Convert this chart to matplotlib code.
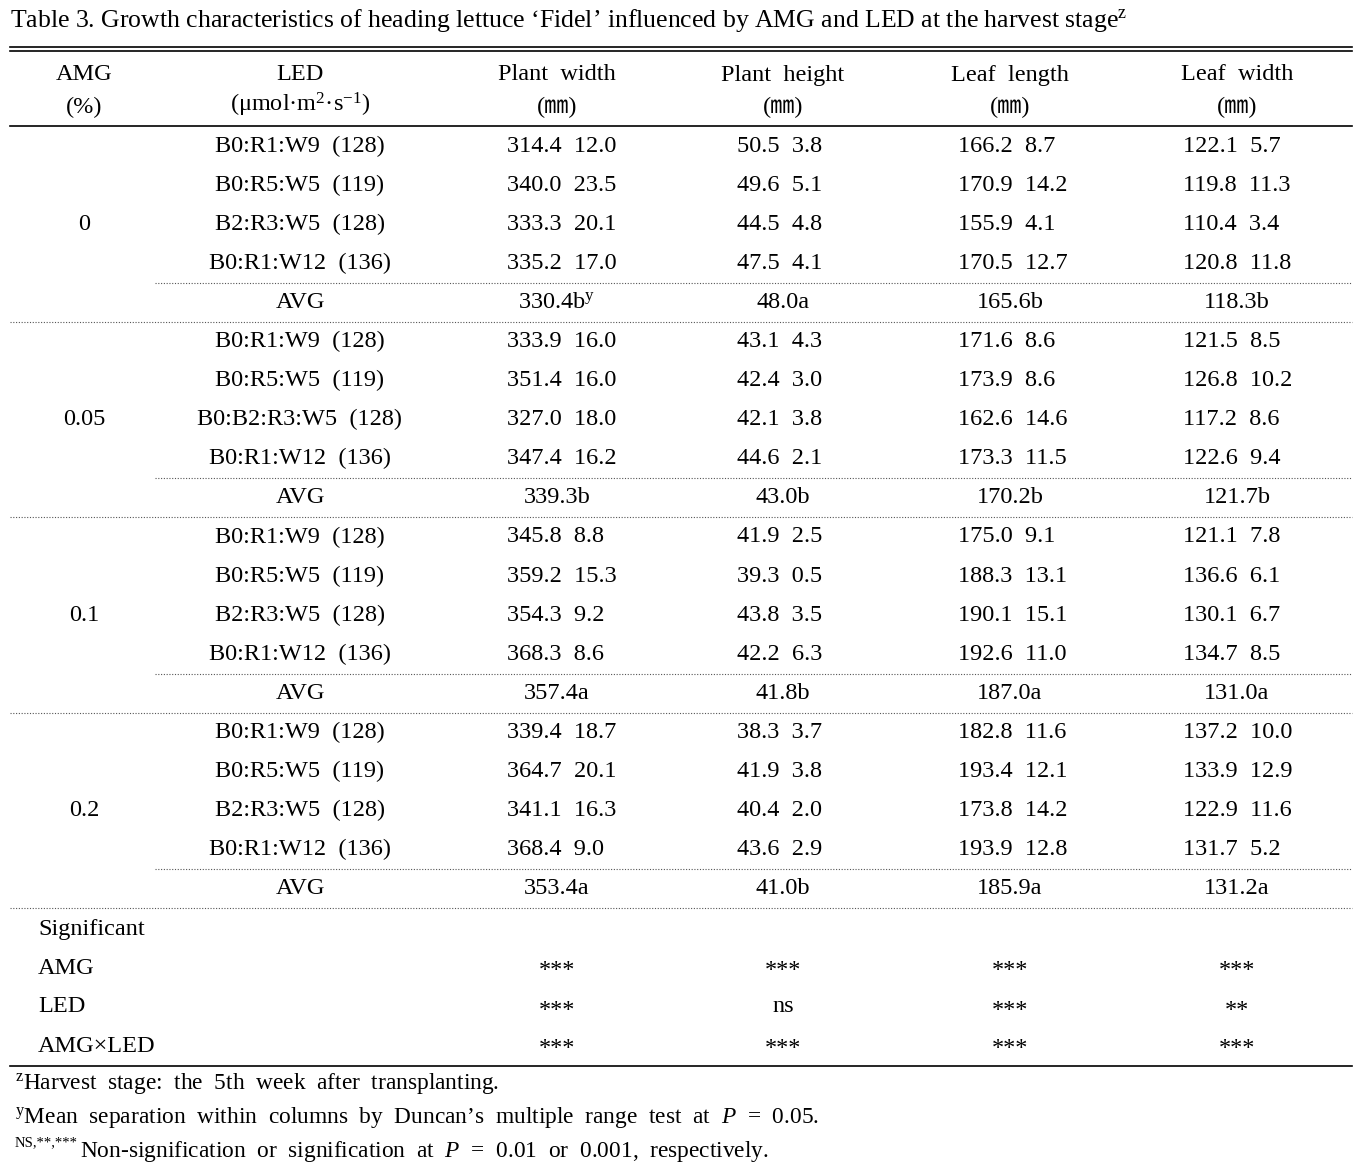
import matplotlib.pyplot as plt

plt.rcParams['font.family'] = ['Liberation Serif', 'Noto Sans CJK JP', 'DejaVu Sans']
plt.rcParams['mathtext.fontset'] = 'custom'
plt.rcParams['mathtext.rm'] = 'Liberation Serif'
plt.rcParams['mathtext.it'] = 'Liberation Serif:italic'

# table data
amg_levels = ["0", "0.05", "0.1", "0.2"]
led_labels = [
    ["B0:R1:W9  (128)", "B0:R5:W5  (119)", "B2:R3:W5  (128)", "B0:R1:W12  (136)"],
    ["B0:R1:W9  (128)", "B0:R5:W5  (119)", "B0:B2:R3:W5  (128)", "B0:R1:W12  (136)"],
    ["B0:R1:W9  (128)", "B0:R5:W5  (119)", "B2:R3:W5  (128)", "B0:R1:W12  (136)"],
    ["B0:R1:W9  (128)", "B0:R5:W5  (119)", "B2:R3:W5  (128)", "B0:R1:W12  (136)"],
]
plant_width_mean = [[314.4, 340.0, 333.3, 335.2], [333.9, 351.4, 327.0, 347.4],
                    [345.8, 359.2, 354.3, 368.3], [339.4, 364.7, 341.1, 368.4]]
plant_width_se = [[12.0, 23.5, 20.1, 17.0], [16.0, 16.0, 18.0, 16.2],
                  [8.8, 15.3, 9.2, 8.6], [18.7, 20.1, 16.3, 9.0]]
plant_height_mean = [[50.5, 49.6, 44.5, 47.5], [43.1, 42.4, 42.1, 44.6],
                     [41.9, 39.3, 43.8, 42.2], [38.3, 41.9, 40.4, 43.6]]
plant_height_se = [[3.8, 5.1, 4.8, 4.1], [4.3, 3.0, 3.8, 2.1],
                   [2.5, 0.5, 3.5, 6.3], [3.7, 3.8, 2.0, 2.9]]
leaf_length_mean = [[166.2, 170.9, 155.9, 170.5], [171.6, 173.9, 162.6, 173.3],
                    [175.0, 188.3, 190.1, 192.6], [182.8, 193.4, 173.8, 193.9]]
leaf_length_se = [[8.7, 14.2, 4.1, 12.7], [8.6, 8.6, 14.6, 11.5],
                  [9.1, 13.1, 15.1, 11.0], [11.6, 12.1, 14.2, 12.8]]
leaf_width_mean = [[122.1, 119.8, 110.4, 120.8], [121.5, 126.8, 117.2, 122.6],
                   [121.1, 136.6, 130.1, 134.7], [137.2, 133.9, 122.9, 131.7]]
leaf_width_se = [[5.7, 11.3, 3.4, 11.8], [8.5, 10.2, 8.6, 9.4],
                 [7.8, 6.1, 6.7, 8.5], [10.0, 12.9, 11.6, 5.2]]
avg_plant_width = ["330.4b$^{\\mathrm{y}}$", "339.3b", "357.4a", "353.4a"]
avg_plant_height = ["48.0a", "43.0b", "41.8b", "41.0b"]
avg_leaf_length = ["165.6b", "170.2b", "187.0a", "185.9a"]
avg_leaf_width = ["118.3b", "121.7b", "131.0a", "131.2a"]
sig_labels = ["AMG", "LED", "AMG×LED"]
sig_plant_width = ["***", "***", "***"]
sig_plant_height = ["***", "ns", "***"]
sig_leaf_length = ["***", "***", "***"]
sig_leaf_width = ["***", "**", "***"]
col_names = ["Plant  width", "Plant  height", "Leaf  length", "Leaf  width"]

W, H = 1370, 1171
fig = plt.figure(figsize=(W / 100, H / 100), dpi=100)
ax = fig.add_axes([0, 0, 1, 1])
ax.set_xlim(0, W)
ax.set_ylim(H, 0)
ax.axis('off')

fs = 17.5
x_left, x_right = 10, 1352
col_center = [557, 783, 1010, 1237]
col_left = [507, 737, 958, 1183]

def txt(x, y, s, ha='center', size=fs, **kw):
    ax.text(x, y, s, ha=ha, va='center', fontsize=size, **kw)

def hline(y, x0=x_left, style='solid', lw=1.0, color='black'):
    if style == 'dotted':
        ax.plot([x0, x_right], [y, y], color='#555555', lw=0.8, ls=(0, (1, 1.5)))
    else:
        ax.plot([x0, x_right], [y, y], color=color, lw=lw)

# title
txt(x_left, 21, "Table 3. Growth characteristics of heading lettuce \u2018Fidel\u2019 influenced by AMG and LED "
    "at the harvest stage$^{\\mathrm{z}}$", ha='left', size=18.5)

hline(47, lw=1.2)
hline(51, lw=1.2)

# header
txt(84, 75, "AMG")
txt(84, 107, "(%)")
txt(300, 75, "LED")
txt(300, 105, "(\u03bcmol\u00b7m$^{2}$\u00b7s$^{\\mathrm{-1}}$)")
for cx, name in zip(col_center, col_names):
    txt(cx, 75, name)
    txt(cx, 107, "(\u339c)")
hline(126, lw=1.2)

means = [plant_width_mean, plant_height_mean, leaf_length_mean, leaf_width_mean]
ses = [plant_width_se, plant_height_se, leaf_length_se, leaf_width_se]
avgs = [avg_plant_width, avg_plant_height, avg_leaf_length, avg_leaf_width]

row_h = 39.1
y0 = 146
for g, amg in enumerate(amg_levels):
    gy = y0 + g * 5 * row_h
    txt(84, gy + 2 * row_h, amg)
    for r in range(4):
        y = gy + r * row_h
        txt(300, y, led_labels[g][r])
        for c in range(4):
            txt(col_left[c], y, "%.1f  %.1f" % (means[c][g][r], ses[c][g][r]), ha='left')
    hline(gy + 3.5 * row_h, x0=155, style='dotted')
    ya = gy + 4 * row_h
    txt(300, ya, "AVG")
    for c in range(4):
        txt(col_center[c], ya, avgs[c][g])
    hline(gy + 4.5 * row_h, style='dotted')

# significance
txt(38, 930, "Significant", ha='left')
sig_cols = [sig_plant_width, sig_plant_height, sig_leaf_length, sig_leaf_width]
for i, lab in enumerate(sig_labels):
    y = 968 + i * 39
    txt(38, y, lab, ha='left')
    for c in range(4):
        s = sig_cols[c][i]
        txt(col_center[c], y + (3 if s.startswith('*') else 0), s)
hline(1066, lw=1.2)

# footnotes
ffs = 16.8
txt(15, 1084, "$^{\\mathrm{z}}$Harvest  stage:  the  5th  week  after  transplanting.", ha='left', size=ffs)
txt(15, 1118, "$^{\\mathrm{y}}$Mean  separation  within  columns  by  Duncan\u2019s  multiple  range  test  at  $P$  =  0.05.",
    ha='left', size=ffs)
ax.text(15, 1143, "NS,**,***", ha='left', va='center', fontsize=10.5)
txt(80, 1151, "Non-signification  or  signification  at  $P$  =  0.01  or  0.001,  respectively.", ha='left', size=ffs)

fig.savefig("out.png", dpi=100)
